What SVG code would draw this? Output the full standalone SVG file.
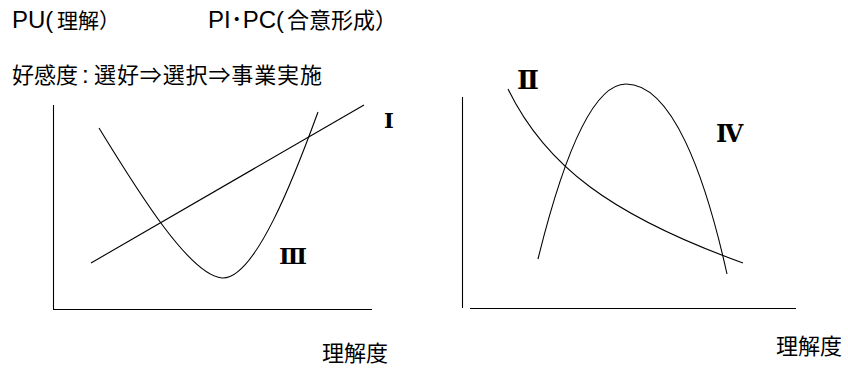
<svg xmlns="http://www.w3.org/2000/svg" width="848" height="369" viewBox="0 0 848 369">
<style>
.t{font-family:"Liberation Sans","Noto Sans CJK JP",sans-serif;font-size:22px;fill:#000}
.l{font-size:24px}
.r{font-family:"DejaVu Serif","Liberation Serif","Noto Sans CJK JP",serif;font-weight:bold;fill:#000}
.ln{fill:none;stroke:#000;stroke-width:1.1}
</style>
<rect width="848" height="369" fill="#fff"/>
<g id="titles">
<text class="t" x="12" y="28"><tspan class="l">PU(</tspan><tspan x="57" font-size="21">理解）</tspan></text>
<text class="t" x="208" y="28"><tspan class="l">PI･PC(</tspan><tspan x="287">合意形成）</tspan></text>
<text class="t" x="12" y="83"><tspan textLength="66">好感度</tspan><tspan x="82" class="l">:</tspan><tspan x="94" textLength="228" lengthAdjust="spacing">選好⇒選択⇒事業実施</tspan></text>
</g>
<g id="chart-left">
<g id="axes-left" class="ln"><line x1="53.5" y1="105" x2="53.5" y2="309"/><line x1="53" y1="309.5" x2="372" y2="309.5"/></g>
<g id="curve-I"><path class="ln" d="M91,263 L364,105"/><text class="r" x="384" y="128" font-size="21">Ⅰ</text></g>
<g id="curve-III"><path class="ln" d="M99,128 C140,195 190,275 222,278 C255,280 295,175 318,112"/><text class="r" x="279" y="264" font-size="23" textLength="24">Ⅲ</text></g>
<text class="t" x="322" y="361" font-size="23">理解度</text>
</g>
<g id="chart-right">
<g id="axes-right" class="ln"><line x1="462.5" y1="97" x2="462.5" y2="308"/><line x1="470" y1="308.5" x2="796" y2="308.5"/></g>
<g id="curve-II"><path class="ln" d="M508,89 C545,165 610,215 743,263"/><text class="r" x="517" y="89" font-size="26" textLength="17">Ⅱ</text></g>
<g id="curve-IV"><path class="ln" d="M538,259 C560,170 590,84 626,84 C672,84 705,175 727,274"/><text class="r" x="716" y="142" font-size="24" textLength="26">Ⅳ</text></g>
<text class="t" x="776" y="354" font-size="23">理解度</text>
</g>
</svg>
